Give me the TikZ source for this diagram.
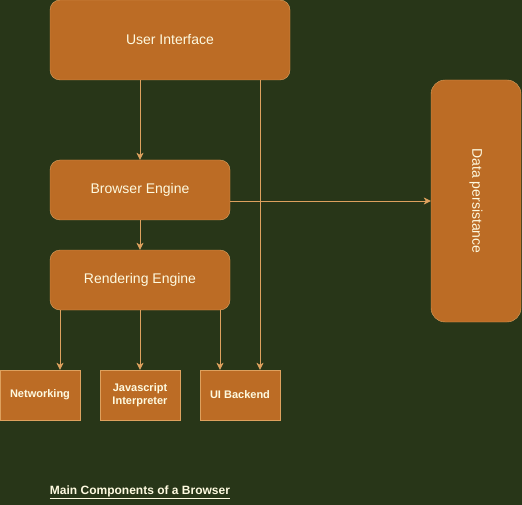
\documentclass[tikz,border=0pt]{standalone}
\usepackage{fontspec}
\setmainfont{Liberation Sans}
\usetikzlibrary{arrows.meta}
\definecolor{bgolive}{HTML}{283618}
\definecolor{boxfill}{HTML}{BC6C25}
\definecolor{boxline}{HTML}{DDA15E}
\definecolor{boxtext}{HTML}{FEFAE0}
\tikzset{font=\fontsize{14}{16}\selectfont}

\begin{document}
\begin{tikzpicture}[x=1pt,y=-1pt,
    every node/.style={inner sep=0pt,text=boxtext},
    rbox/.style={draw=boxline,fill=boxfill,rounded corners=10pt},
    sbox/.style={draw=boxline,fill=boxfill,minimum width={80pt},minimum height={50pt},align=center,font=\fontsize{11}{13}\selectfont\bfseries},
    link/.style={color=boxline,-{Stealth[length=7pt,width=7pt,inset=2pt]}}]
      \fill[bgolive] (0,0) rectangle (522,505);
      \useasboundingbox (0,0) rectangle (522,505);

      \node[rbox,minimum width={240pt},minimum height={80pt}] (UI) at (170,40) {User Interface};
      \node[rbox,minimum width={180pt},minimum height={60pt}] (BE) at (140,190) {Browser Engine};
      \node[rbox,minimum width={180pt},minimum height={60pt}] (RE) at (140,280) {Rendering Engine};
      \node[rbox,rounded corners=14pt,minimum width={90pt},minimum height={242pt}] (DP) at (476,201) {};
      \node[rotate=-90] (DPlabel) at (DP.center) {Data persistance};

      \node[sbox] (NW) at (40,395) {Networking};
      \node[sbox] (JS) at (140,395) {Javascript\\Interpreter};
      \node[sbox] (UB) at (240,395) {UI Backend};

      \node[font=\fontsize{12}{14}\selectfont\bfseries] (T) at (140,492) {\underline{Main Components of a Browser}};

      \path [link](UI.south -| BE.north) edge node {} (BE.north);
      \path [link](UI.south -| 260,0) edge node {} (UB.north -| 260,0);
      \path [link](BE.south) edge node {} (RE.north);
      \path [link](BE.east |- 0,201) edge node {} (DP.west |- 0,201);

      \path [link](RE.south -| 60,0) edge node {} (NW.north -| 60,0);
      \path [link](RE.south) edge node {} (JS.north);
      \path [link](RE.south -| 220,0) edge node {} (UB.north -| 220,0);
  \end{tikzpicture}
\end{document}
